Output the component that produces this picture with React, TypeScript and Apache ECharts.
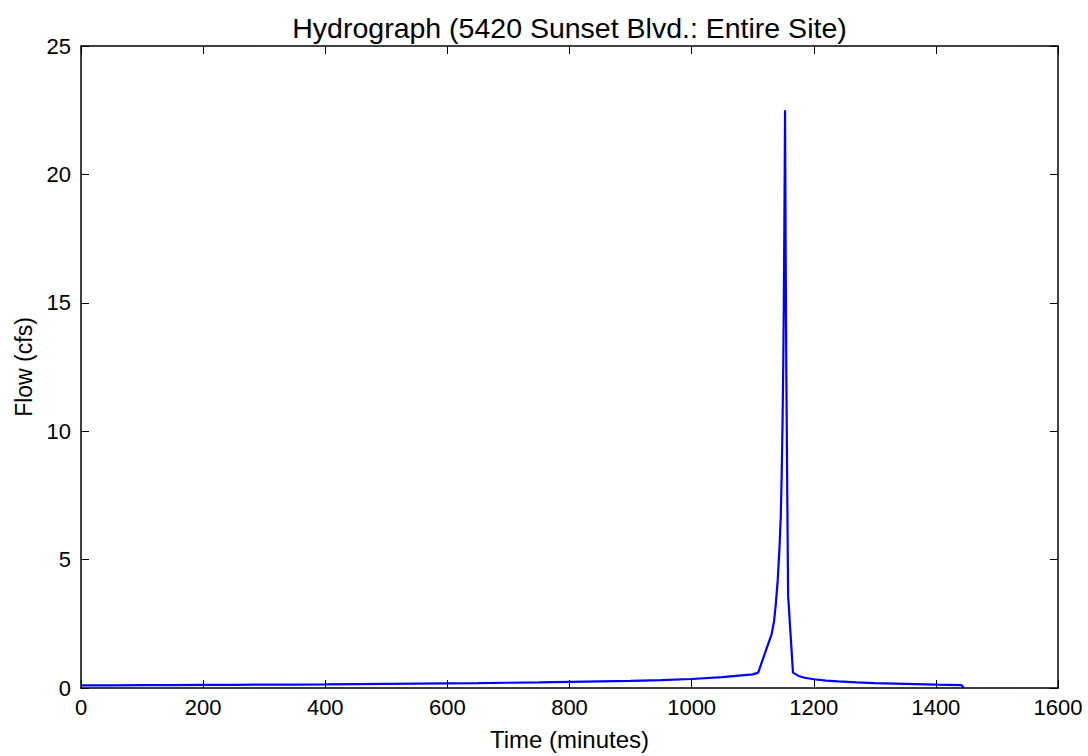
import React, { useEffect, useRef } from "react";
import * as echarts from "echarts";

const TITLE = "Hydrograph (5420 Sunset Blvd.: Entire Site)";
const X_LABEL = "Time (minutes)";
const Y_LABEL = "Flow (cfs)";

// time (minutes)
const times = [
  0, 50, 100, 150, 200, 250, 300, 350, 400, 450, 500, 550, 600, 650, 700, 750, 800, 850, 900, 950,
  1000, 1050, 1100, 1109, 1120, 1131, 1135, 1138, 1141, 1144, 1146, 1147.5, 1149, 1150, 1151, 1152,
  1153, 1154, 1155, 1156, 1157, 1158, 1162, 1166, 1175, 1185, 1200, 1220, 1240, 1270, 1300, 1350,
  1400, 1442, 1446,
];
// flow (cfs)
const flows = [
  0.1, 0.105, 0.11, 0.115, 0.12, 0.125, 0.13, 0.135, 0.14, 0.15, 0.16, 0.17, 0.18, 0.19, 0.205, 0.22,
  0.24, 0.26, 0.28, 0.31, 0.35, 0.42, 0.53, 0.6, 1.35, 2.1, 2.6, 3.3, 4.2, 5.5, 6.7, 8.3, 10.5, 12.5,
  15, 18.5, 22.5, 17, 12.5, 9.5, 6.5, 3.6, 2.1, 0.6, 0.47, 0.4, 0.34, 0.29, 0.26, 0.22, 0.19, 0.16,
  0.13, 0.11, 0,
];

const FONT = "'Liberation Sans', Arial, sans-serif";

export default function App() {
  const ref = useRef<HTMLDivElement>(null);
  useEffect(() => {
    if (!ref.current) return;
    const chart = echarts.init(ref.current, null, { renderer: "svg" });
    const data = times.map((t, i) => [t, flows[i]]);
    const axisLine = { show: true, onZero: false, lineStyle: { color: "#000", width: 1.5 } };
    const tick = { show: true, inside: true, length: 8, lineStyle: { color: "#000", width: 1 } };
    const plain = (v: number) => String(v);
    chart.setOption({
      animation: false,
      backgroundColor: "#fff",
      textStyle: { fontFamily: FONT },
      grid: { left: 81, right: 30, top: 46, bottom: 62, containLabel: false },
      graphic: [
        {
          type: "text",
          x: 569.5,
          y: 28,
          style: {
            text: TITLE,
            fontFamily: FONT,
            fontSize: 28.5,
            fill: "#000",
            textAlign: "center",
            textVerticalAlign: "middle",
          },
        },
      ],
      xAxis: [
        {
          type: "value",
          min: 0,
          max: 1600,
          interval: 200,
          name: X_LABEL,
          nameLocation: "middle",
          nameGap: 39,
          nameTextStyle: { fontFamily: FONT, fontSize: 24, color: "#000" },
          axisLine,
          axisTick: tick,
          axisLabel: { fontFamily: FONT, fontSize: 22, color: "#000", margin: 8, formatter: plain },
          splitLine: { show: false },
        },
        {
          type: "value",
          position: "top",
          min: 0,
          max: 1600,
          interval: 200,
          axisLine,
          axisTick: tick,
          axisLabel: { show: false },
          splitLine: { show: false },
        },
      ],
      yAxis: [
        {
          type: "value",
          min: 0,
          max: 25,
          interval: 5,
          name: Y_LABEL,
          nameLocation: "middle",
          nameRotate: 90,
          nameGap: 45,
          nameTextStyle: { fontFamily: FONT, fontSize: 23, color: "#000" },
          axisLine,
          axisTick: tick,
          axisLabel: { fontFamily: FONT, fontSize: 22, color: "#000", margin: 10, formatter: plain },
          splitLine: { show: false },
        },
        {
          type: "value",
          position: "right",
          min: 0,
          max: 25,
          interval: 5,
          axisLine,
          axisTick: tick,
          axisLabel: { show: false },
          splitLine: { show: false },
        },
      ],
      series: [
        {
          type: "line",
          data,
          showSymbol: false,
          symbol: "none",
          lineStyle: { color: "#0000ff", width: 2.2 },
          xAxisIndex: 0,
          yAxisIndex: 0,
        },
      ],
    });
    return () => chart.dispose();
  }, []);
  return (
    <div
      ref={ref}
      style={{ position: "fixed", left: 0, top: 0, width: 1088, height: 756, background: "#fff" }}
    />
  );
}
